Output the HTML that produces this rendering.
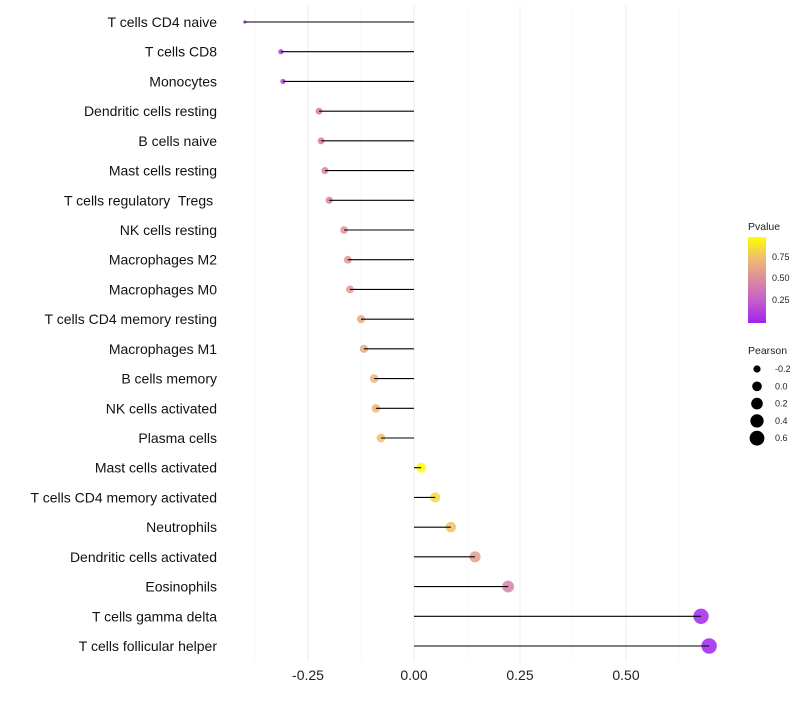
<!DOCTYPE html>
<html><head><meta charset="utf-8"><style>
body{margin:0;background:#fff;font-family:"Liberation Sans",sans-serif}
text{white-space:pre}
</style></head><body>
<svg id="chart" width="800" height="700" xmlns="http://www.w3.org/2000/svg">
<defs><linearGradient id="pg" x1="0" y1="1" x2="0" y2="0">
<stop offset="0" stop-color="#a020f0"/><stop offset="0.25" stop-color="#c45ccc"/><stop offset="0.5" stop-color="#dc8aa0"/><stop offset="0.75" stop-color="#efbb72"/><stop offset="1" stop-color="#ffff00"/></linearGradient></defs>
<g id="grid"></g><g id="dots"></g><g id="marks"></g><g id="labels"></g>
<g font-size="9" fill="#222">
<text x="748" y="230" font-size="10.5">Pvalue</text>
<rect x="748" y="237" width="18" height="86" fill="url(#pg)"/>
<text x="772" y="260">0.75</text><text x="772" y="281">0.50</text><text x="772" y="303">0.25</text>
</g>
<g id="sizeleg" font-size="9" fill="#222">
<text x="748" y="354" font-size="10.5">Pearson</text>
</g>
</svg>
<script>
const categories=["T cells CD4 naive","T cells CD8","Monocytes","Dendritic cells resting","B cells naive","Mast cells resting","T cells regulatory  Tregs ","NK cells resting","Macrophages M2","Macrophages M0","T cells CD4 memory resting","Macrophages M1","B cells memory","NK cells activated","Plasma cells","Mast cells activated","T cells CD4 memory activated","Neutrophils","Dendritic cells activated","Eosinophils","T cells gamma delta","T cells follicular helper"];
const pearson=[-0.399,-0.314,-0.309,-0.224,-0.219,-0.210,-0.200,-0.165,-0.156,-0.151,-0.125,-0.118,-0.094,-0.090,-0.078,0.017,0.050,0.087,0.144,0.222,0.677,0.696];
const pvalue=[0.05,0.15,0.17,0.40,0.42,0.44,0.46,0.55,0.57,0.58,0.66,0.67,0.72,0.73,0.76,0.98,0.85,0.78,0.60,0.45,0.02,0.01];
const xTicks=[-0.25,0,0.25,0.5];
const xTickLabels=["-0.25","0.00","0.25","0.50"];
const sizeLegend=[-0.2,0,0.2,0.4,0.6];
const NS="http://www.w3.org/2000/svg";
const x=v=>414+v*424;
const y=i=>22+i*(624/21);
const r=v=>Math.sqrt(Math.max(0.5,2.6+52*(v+0.4)));
const stops=[[0,[160,32,240]],[0.25,[196,92,204]],[0.5,[220,138,160]],[0.75,[239,187,114]],[1,[255,255,0]]];
function col(p){for(let k=0;k<4;k++){const a=stops[k],b=stops[k+1];if(p<=b[0]||k==3){const t=Math.min(1,Math.max(0,(p-a[0])/(b[0]-a[0])));return 'rgb('+a[1].map((c,j)=>Math.round(c+(b[1][j]-c)*t)).join(',')+')';}}}
function mk(t,at,parent){const e=document.createElementNS(NS,t);for(const k in at)e.setAttribute(k,at[k]);parent.appendChild(e);return e;}
const grid=document.getElementById('grid'),marks=document.getElementById('marks'),dots=document.getElementById('dots'),labels=document.getElementById('labels');
for(let v=-0.375;v<=0.63;v+=0.25){const l=mk('line',{x1:x(v),x2:x(v),y1:5,y2:662,stroke:'#f5f5f5','stroke-width':0.6},grid);

}
xTicks.forEach((v,i)=>{const l=mk('line',{x1:x(v),x2:x(v),y1:5,y2:662,stroke:'#eeeeee','stroke-width':1},grid);


const t=mk('text',{x:x(v),y:680,'text-anchor':'middle','font-size':14,fill:'#222'},labels);t.textContent=xTickLabels[i];

});
categories.forEach((c,i)=>{const t=mk('text',{x:217,y:y(i)+5,'text-anchor':'end','font-size':14,fill:'#111'},labels);t.textContent=c;


const l=mk('line',{x1:x(0),x2:x(pearson[i]),y1:y(i),y2:y(i),stroke:'#000','stroke-width':1.1},marks);


const d=mk('circle',{cx:x(pearson[i]),cy:y(i),r:r(pearson[i]),fill:col(pvalue[i]),'fill-opacity':0.85},dots);

});
const sl=document.getElementById('sizeleg');
sizeLegend.forEach((v,i)=>{const cy=369+i*17.3;const d=mk('circle',{cx:757,cy:cy,r:r(v),fill:'#000'},sl);


const t=mk('text',{x:775,y:cy+3},sl);t.textContent=(v===0?'0.0':String(v));

});
</script>
</body></html>
